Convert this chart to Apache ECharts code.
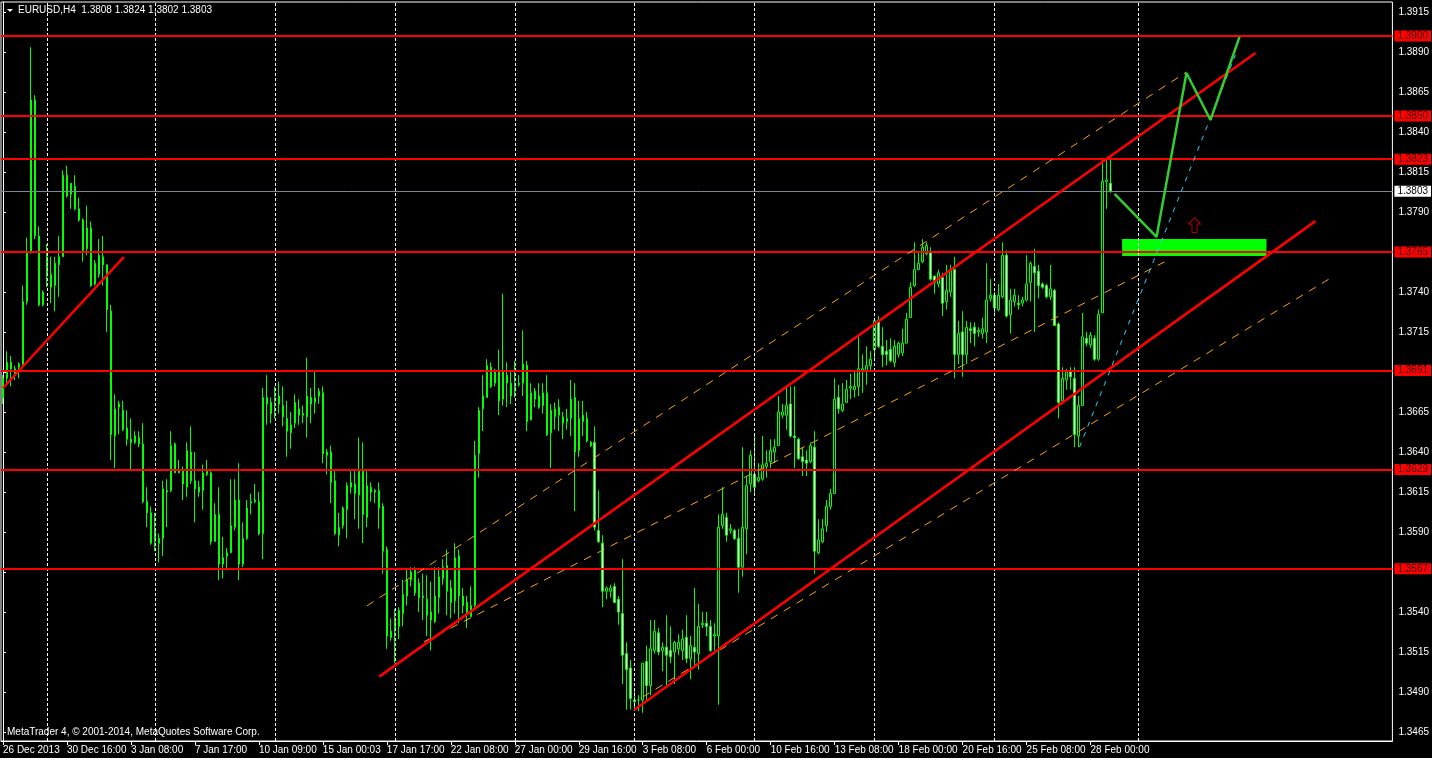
<!DOCTYPE html>
<html><head><meta charset="utf-8">
<script src="https://cdn.jsdelivr.net/npm/echarts@6/dist/echarts.min.js"></script>
<style>html,body{margin:0;padding:0;background:#000;}#c{width:1432px;height:758px;}</style>
</head><body><div id="c"></div>
<script>
// ---------- DATA ----------
const symbolName = 'EURUSD,H4';
const tickLabels = ['26 Dec 2013','30 Dec 16:00','3 Jan 08:00','7 Jan 17:00','10 Jan 09:00','15 Jan 00:03','17 Jan 17:00','22 Jan 08:00','27 Jan 00:00','29 Jan 16:00','3 Feb 08:00','6 Feb 00:00','10 Feb 16:00','13 Feb 08:00','18 Feb 00:00','20 Feb 16:00','25 Feb 08:00','28 Feb 00:00'];
const barsPerLabel = 16;
const futureBars = 70;
const priceTicks = [1.3465,1.3490,1.3515,1.3540,1.3565,1.3590,1.3615,1.3640,1.3665,1.3690,1.3715,1.3740,1.3765,1.3790,1.3815,1.3840,1.3865,1.3890,1.3915];
const hiddenTickLabels = [1.3565,1.3690,1.3765];
// H4 candles: [open, high, low, close]
const ohlc = [
[1.3674,1.3688,1.3670,1.3686],[1.3686,1.3703,1.3682,1.3696],[1.3696,1.3700,1.3681,1.3692],[1.3692,1.3694,1.3685,1.3688],
[1.3693,1.3696,1.3686,1.3695],[1.3695,1.3744,1.3693,1.3734],[1.3734,1.3774,1.3732,1.3765],[1.3765,1.3893,1.3764,1.3860],
[1.3860,1.3863,1.3773,1.3775],[1.3775,1.3781,1.3731,1.3732],[1.3732,1.3741,1.3731,1.3740],[1.3750,1.3770,1.3743,1.3762],
[1.3751,1.3762,1.3733,1.3743],[1.3744,1.3762,1.3728,1.3758],[1.3757,1.3775,1.3737,1.3762],[1.3762,1.3816,1.3762,1.3813],
[1.3813,1.3819,1.3799,1.3800],[1.3801,1.3808,1.3792,1.3808],[1.3806,1.3813,1.3791,1.3792],[1.3792,1.3799,1.3784,1.3785],
[1.3785,1.3786,1.3759,1.3766],[1.3767,1.3794,1.3763,1.3780],[1.3780,1.3784,1.3743,1.3744],[1.3745,1.3760,1.3744,1.3758],
[1.3751,1.3773,1.3749,1.3763],[1.3762,1.3775,1.3744,1.3757],[1.3757,1.3757,1.3715,1.3729],[1.3728,1.3732,1.3635,1.3651],
[1.3650,1.3676,1.3630,1.3667],[1.3668,1.3672,1.3651,1.3670],[1.3666,1.3672,1.3653,1.3654],[1.3655,1.3666,1.3644,1.3648],
[1.3648,1.3661,1.3628,1.3646],[1.3646,1.3653,1.3645,1.3650],[1.3649,1.3653,1.3643,1.3645],[1.3645,1.3658,1.3608,1.3609],
[1.3609,1.3618,1.3593,1.3602],[1.3602,1.3606,1.3582,1.3583],[1.3584,1.3602,1.3578,1.3592],[1.3586,1.3589,1.3571,1.3583],
[1.3586,1.3622,1.3575,1.3617],[1.3615,1.3623,1.3593,1.3616],[1.3616,1.3653,1.3615,1.3644],[1.3645,1.3646,1.3627,1.3627],
[1.3628,1.3635,1.3627,1.3627],[1.3628,1.3631,1.3610,1.3620],[1.3618,1.3646,1.3612,1.3641],[1.3640,1.3656,1.3620,1.3622],
[1.3622,1.3640,1.3596,1.3617],[1.3618,1.3622,1.3612,1.3615],[1.3616,1.3632,1.3604,1.3627],[1.3626,1.3635,1.3625,1.3628],
[1.3627,1.3628,1.3582,1.3584],[1.3584,1.3608,1.3584,1.3601],[1.3601,1.3618,1.3560,1.3570],[1.3570,1.3587,1.3561,1.3574],
[1.3575,1.3580,1.3566,1.3577],[1.3577,1.3623,1.3577,1.3594],[1.3593,1.3623,1.3591,1.3610],[1.3610,1.3633,1.3560,1.3570],
[1.3570,1.3596,1.3568,1.3586],[1.3586,1.3610,1.3585,1.3605],[1.3608,1.3614,1.3601,1.3609],[1.3609,1.3620,1.3608,1.3610],
[1.3609,1.3615,1.3588,1.3589],[1.3589,1.3680,1.3573,1.3674],[1.3674,1.3688,1.3657,1.3670],[1.3671,1.3674,1.3658,1.3664],
[1.3672,1.3681,1.3661,1.3674],[1.3670,1.3684,1.3664,1.3675],[1.3669,1.3681,1.3656,1.3662],[1.3661,1.3672,1.3637,1.3653],
[1.3652,1.3665,1.3642,1.3657],[1.3658,1.3676,1.3655,1.3671],[1.3667,1.3673,1.3657,1.3663],[1.3664,1.3669,1.3658,1.3663],
[1.3662,1.3699,1.3649,1.3675],[1.3674,1.3680,1.3658,1.3670],[1.3671,1.3690,1.3664,1.3674],[1.3675,1.3680,1.3670,1.3678],
[1.3677,1.3681,1.3633,1.3639],[1.3640,1.3642,1.3626,1.3638],[1.3640,1.3644,1.3608,1.3621],[1.3622,1.3628,1.3588,1.3589],
[1.3588,1.3602,1.3581,1.3593],[1.3594,1.3606,1.3592,1.3605],[1.3604,1.3621,1.3586,1.3619],[1.3618,1.3628,1.3614,1.3621],
[1.3620,1.3628,1.3598,1.3614],[1.3613,1.3649,1.3592,1.3628],[1.3628,1.3646,1.3583,1.3601],[1.3599,1.3628,1.3593,1.3619],
[1.3615,1.3621,1.3609,1.3618],[1.3616,1.3617,1.3608,1.3615],[1.3616,1.3621,1.3592,1.3605],[1.3606,1.3608,1.3564,1.3578],
[1.3579,1.3581,1.3517,1.3525],[1.3524,1.3536,1.3522,1.3528],[1.3530,1.3542,1.3508,1.3536],[1.3531,1.3543,1.3523,1.3541],
[1.3539,1.3560,1.3531,1.3551],[1.3550,1.3567,1.3544,1.3560],[1.3560,1.3568,1.3556,1.3565],[1.3566,1.3568,1.3550,1.3552],
[1.3558,1.3561,1.3540,1.3549],[1.3550,1.3564,1.3535,1.3549],[1.3548,1.3563,1.3525,1.3538],[1.3535,1.3559,1.3516,1.3540],
[1.3534,1.3568,1.3533,1.3550],[1.3549,1.3568,1.3539,1.3562],[1.3561,1.3573,1.3557,1.3568],[1.3569,1.3579,1.3538,1.3553],
[1.3555,1.3560,1.3536,1.3546],[1.3547,1.3583,1.3539,1.3574],[1.3575,1.3579,1.3533,1.3550],[1.3550,1.3555,1.3539,1.3544],
[1.3546,1.3550,1.3530,1.3540],[1.3537,1.3556,1.3537,1.3544],[1.3544,1.3647,1.3543,1.3638],[1.3639,1.3668,1.3624,1.3666],
[1.3667,1.3688,1.3653,1.3675],[1.3674,1.3698,1.3674,1.3694],[1.3693,1.3696,1.3680,1.3681],[1.3683,1.3692,1.3681,1.3691],
[1.3691,1.3704,1.3663,1.3672],[1.3673,1.3739,1.3669,1.3690],[1.3688,1.3696,1.3668,1.3683],[1.3683,1.3690,1.3670,1.3675],
[1.3678,1.3697,1.3674,1.3681],[1.3682,1.3688,1.3681,1.3683],[1.3683,1.3716,1.3675,1.3695],[1.3694,1.3697,1.3653,1.3659],
[1.3660,1.3683,1.3660,1.3677],[1.3678,1.3680,1.3668,1.3673],[1.3675,1.3683,1.3667,1.3668],[1.3669,1.3683,1.3664,1.3677],
[1.3677,1.3688,1.3650,1.3651],[1.3652,1.3670,1.3630,1.3666],[1.3662,1.3671,1.3654,1.3667],[1.3663,1.3673,1.3653,1.3668],
[1.3662,1.3665,1.3648,1.3658],[1.3659,1.3667,1.3654,1.3661],[1.3661,1.3685,1.3650,1.3673],[1.3674,1.3683,1.3603,1.3640],
[1.3641,1.3672,1.3637,1.3661],[1.3659,1.3672,1.3650,1.3663],[1.3661,1.3665,1.3646,1.3647],[1.3646,1.3647,1.3643,1.3644],
[1.3646,1.3656,1.3591,1.3593],[1.3591,1.3616,1.3583,1.3584],[1.3583,1.3588,1.3543,1.3553],[1.3553,1.3556,1.3548,1.3555],
[1.3553,1.3557,1.3549,1.3555],[1.3556,1.3558,1.3546,1.3546],[1.3548,1.3550,1.3532,1.3540],[1.3539,1.3573,1.3495,1.3513],
[1.3514,1.3521,1.3479,1.3504],[1.3505,1.3510,1.3479,1.3486],[1.3485,1.3492,1.3479,1.3484],[1.3485,1.3488,1.3478,1.3485],
[1.3485,1.3508,1.3477,1.3508],[1.3509,1.3519,1.3485,1.3494],[1.3494,1.3535,1.3488,1.3517],[1.3516,1.3535,1.3514,1.3528],
[1.3527,1.3530,1.3513,1.3515],[1.3516,1.3521,1.3503,1.3518],[1.3518,1.3538,1.3494,1.3513],[1.3516,1.3531,1.3508,1.3512],
[1.3515,1.3522,1.3495,1.3521],[1.3517,1.3526,1.3513,1.3521],[1.3516,1.3529,1.3510,1.3523],[1.3524,1.3538,1.3508,1.3511],
[1.3511,1.3525,1.3498,1.3519],[1.3518,1.3555,1.3507,1.3515],[1.3514,1.3545,1.3504,1.3531],[1.3532,1.3540,1.3530,1.3533],
[1.3533,1.3540,1.3525,1.3531],[1.3531,1.3535,1.3515,1.3516],[1.3525,1.3533,1.3516,1.3526],[1.3525,1.3601,1.3482,1.3593],
[1.3594,1.3618,1.3592,1.3601],[1.3599,1.3602,1.3584,1.3588],[1.3591,1.3595,1.3589,1.3592],[1.3591,1.3592,1.3585,1.3586],
[1.3586,1.3592,1.3552,1.3568],[1.3568,1.3643,1.3562,1.3593],[1.3592,1.3625,1.3576,1.3619],[1.3620,1.3641,1.3615,1.3638],
[1.3626,1.3650,1.3614,1.3618],[1.3622,1.3633,1.3621,1.3624],[1.3623,1.3650,1.3622,1.3632],[1.3631,1.3641,1.3624,1.3633],
[1.3634,1.3648,1.3630,1.3641],[1.3640,1.3648,1.3633,1.3643],[1.3644,1.3675,1.3644,1.3665],[1.3663,1.3670,1.3661,1.3665],
[1.3663,1.3681,1.3654,1.3669],[1.3670,1.3681,1.3649,1.3650],[1.3650,1.3681,1.3630,1.3649],[1.3648,1.3649,1.3635,1.3636],
[1.3637,1.3643,1.3625,1.3634],[1.3635,1.3641,1.3625,1.3633],[1.3634,1.3646,1.3633,1.3644],[1.3643,1.3653,1.3564,1.3578],
[1.3577,1.3598,1.3576,1.3585],[1.3584,1.3598,1.3583,1.3592],[1.3594,1.3610,1.3590,1.3606],[1.3606,1.3617,1.3604,1.3614],
[1.3614,1.3686,1.3614,1.3673],[1.3674,1.3682,1.3664,1.3667],[1.3666,1.3683,1.3665,1.3670],[1.3671,1.3685,1.3671,1.3679],
[1.3680,1.3689,1.3673,1.3681],[1.3679,1.3691,1.3674,1.3681],[1.3681,1.3713,1.3675,1.3692],[1.3691,1.3701,1.3677,1.3692],
[1.3691,1.3706,1.3682,1.3694],[1.3694,1.3703,1.3691,1.3698],[1.3704,1.3724,1.3698,1.3722],[1.3722,1.3725,1.3705,1.3706],
[1.3706,1.3718,1.3693,1.3701],[1.3703,1.3710,1.3694,1.3701],[1.3704,1.3711,1.3696,1.3697],[1.3696,1.3710,1.3693,1.3706],
[1.3701,1.3709,1.3699,1.3708],[1.3702,1.3717,1.3700,1.3708],[1.3708,1.3727,1.3708,1.3723],[1.3724,1.3746,1.3724,1.3743],
[1.3744,1.3771,1.3743,1.3754],[1.3754,1.3765,1.3754,1.3758],[1.3759,1.3773,1.3758,1.3768],[1.3764,1.3771,1.3763,1.3769],
[1.3765,1.3768,1.3747,1.3748],[1.3750,1.3750,1.3739,1.3746],[1.3745,1.3754,1.3743,1.3752],[1.3749,1.3752,1.3725,1.3733],
[1.3734,1.3757,1.3729,1.3741],[1.3740,1.3757,1.3737,1.3754],[1.3754,1.3762,1.3686,1.3701],[1.3701,1.3722,1.3695,1.3714],
[1.3715,1.3728,1.3687,1.3701],[1.3701,1.3722,1.3695,1.3718],[1.3717,1.3721,1.3708,1.3716],[1.3718,1.3721,1.3706,1.3714],
[1.3715,1.3718,1.3712,1.3716],[1.3714,1.3724,1.3711,1.3717],[1.3715,1.3758,1.3708,1.3735],[1.3736,1.3748,1.3734,1.3738],
[1.3738,1.3740,1.3727,1.3730],[1.3729,1.3745,1.3728,1.3738],[1.3737,1.3771,1.3736,1.3763],[1.3763,1.3766,1.3724,1.3725],
[1.3726,1.3742,1.3714,1.3735],[1.3734,1.3742,1.3731,1.3738],[1.3733,1.3738,1.3729,1.3732],[1.3733,1.3737,1.3731,1.3735],
[1.3735,1.3763,1.3734,1.3745],[1.3746,1.3759,1.3734,1.3758],[1.3756,1.3767,1.3715,1.3752],[1.3753,1.3757,1.3736,1.3744],
[1.3745,1.3746,1.3742,1.3743],[1.3744,1.3745,1.3736,1.3737],[1.3737,1.3757,1.3735,1.3742],[1.3741,1.3742,1.3719,1.3719],
[1.3720,1.3721,1.3661,1.3671],[1.3672,1.3693,1.3671,1.3686],[1.3685,1.3692,1.3679,1.3690],[1.3691,1.3693,1.3679,1.3687],
[1.3686,1.3693,1.3643,1.3651],[1.3650,1.3675,1.3643,1.3669],[1.3669,1.3727,1.3669,1.3712],[1.3711,1.3715,1.3706,1.3708],
[1.3707,1.3715,1.3705,1.3713],[1.3711,1.3713,1.3697,1.3698],[1.3698,1.3729,1.3697,1.3726],[1.3727,1.3824,1.3727,1.3809],
[1.3809,1.3823,1.3792,1.3810],[1.3808,1.3824,1.3802,1.3803]
];
// horizontal price levels
const levels = [1.3900,1.3850,1.3823,1.3765,1.3691,1.3629,1.3567];
const bidPrice = 1.3803;
// vertical grid lines (bar index)
const gridBars = [11,38,68,98,128,158,188,218,248,284];
// drawn objects, points as [bar index, price]
const trendLeft   = [[0,1.3680],[30.25,1.3762]];
const channelUp   = [[94.1,1.34996],[313.25,1.38894]];
const channelDown = [[157.8,1.34788],[328.25,1.37843]];
const dashUpper   = [[91,1.35438],[296,1.38775]];
const dashMiddle  = [[105.25,1.35213],[290.5,1.37588]];
const dashLower   = [[160,1.34869],[332.5,1.37494]];
const cyanLine    = [[269.25,1.36431],[308.25,1.38881]];
const projection  = [[278,1.38013],[288.5,1.37744],[296,1.38769],[302,1.38475],[309.25,1.38994]];
const zoneBox     = {x0:279.9, x1:316, top:1.37731, bottom:1.37625};
const arrowPoint  = [[298,1.37819]];

// ---------- CHART ----------
const FONT = "'Liberation Sans', Arial, sans-serif";
const nCats = ohlc.length + futureBars;
const cats = [];
for (let i = 0; i < nCats; i++) {
  const k = i / barsPerLabel;
  cats.push(i % barsPerLabel === 0 && k < tickLabels.length ? tickLabels[k] : '');
}
const isLabelIdx = (i) => i % barsPerLabel === 0 && i / barsPerLabel < tickLabels.length;
const candleData = ohlc.map(r => [r[0], r[3], r[2], r[1]]);
const last = ohlc[ohlc.length - 1];
const header = symbolName + '  ' + last.map(v => v.toFixed(4)).join(' ');

function seg(name, pts, color, width, type, z) {
  return {type:'line', name, xAxisIndex:1, yAxisIndex:0, data:pts, symbol:'none', showSymbol:false,
    silent:true, z, lineStyle:{color, width, type}, animation:false};
}

const chart = echarts.init(document.getElementById('c'));
chart.setOption({
  backgroundColor:'#000000',
  animation:false,
  textStyle:{fontFamily:FONT},
  grid:{left:1, top:2, right:39, bottom:17, show:true, borderColor:'#ffffff', borderWidth:1, backgroundColor:'#000000'},
  xAxis:[
    {type:'category', data:cats, boundaryGap:true, position:'bottom',
     axisLine:{show:true, lineStyle:{color:'#ffffff', width:1}},
     axisTick:{show:true, interval:(i)=>isLabelIdx(i), alignWithLabel:true, length:4, lineStyle:{color:'#ffffff'}},
     axisLabel:{interval:(i)=>isLabelIdx(i), align:'left', color:'#ffffff', fontSize:10, fontFamily:FONT, margin:4},
     splitLine:{show:false}},
    {type:'value', min:-0.5, max:nCats-0.5, show:false, splitLine:{show:false}}
  ],
  yAxis:[{type:'value', position:'right', min:1.3459375, max:1.392125, scale:true,
    axisLine:{show:true, lineStyle:{color:'#ffffff'}},
    axisTick:{show:true, customValues:priceTicks, length:3, lineStyle:{color:'#ffffff'}},
    axisLabel:{customValues:priceTicks.filter(v=>hiddenTickLabels.indexOf(v)<0), color:'#ffffff', fontSize:10, fontFamily:FONT, margin:6,
      formatter:(v)=>Number(v).toFixed(4)},
    splitLine:{show:false}}],
  graphic:[
    {type:'polygon', shape:{points:[[7,9],[13,9],[10,12]]}, style:{fill:'#ffffff'}, z:100},
    {type:'text', left:18, top:5, style:{text:header, fill:'#ffffff', font:'10px '+FONT}, z:100},
    {type:'text', left:7, top:727, style:{text:'MetaTrader 4, \u00a9 2001-2014, MetaQuotes Software Corp.', fill:'#ffffff', font:'10px '+FONT}, z:100}
  ],
  series:[
    {type:'line', name:'grid', xAxisIndex:1, data:[], z:1, silent:true,
     markLine:{silent:true, precision:4, symbol:['none','none'], animation:false, label:{show:false},
       lineStyle:{color:'#ffffff', width:1, type:[3,2]}, data:gridBars.map(b=>({xAxis:b}))}},
    {type:'line', name:'zone', xAxisIndex:1, data:[], z:2, silent:true,
     markArea:{silent:true, animation:false, itemStyle:{color:'#00ff00'},
       data:[[{xAxis:zoneBox.x0, yAxis:zoneBox.top},{xAxis:zoneBox.x1, yAxis:zoneBox.bottom}]]}},
    {type:'candlestick', name:'EURUSD', xAxisIndex:0, data:candleData, z:3, barWidth:2, silent:true,
     itemStyle:{color:'#000000', color0:'#ffffff', borderColor:'#00ff00', borderColor0:'#00ff00', borderWidth:1}},
    {type:'line', name:'bid', xAxisIndex:1, data:[], z:4, silent:true,
     markLine:{silent:true, precision:4, symbol:['none','none'], animation:false,
       lineStyle:{color:'#778899', width:1, type:'solid'},
       label:{show:true, position:'end', distance:2, formatter:(p)=>Number(p.value).toFixed(4), backgroundColor:'#ffffff', color:'#000000',
         fontSize:10, fontFamily:FONT, padding:[1,3,0,3]},
       data:[{yAxis:bidPrice}]}},
    seg('dashUpper', dashUpper, '#ffa500', 1, [8,7], 5),
    seg('dashMiddle', dashMiddle, '#ffa500', 1, [8,7], 5),
    seg('dashLower', dashLower, '#ffa500', 1, [8,7], 5),
    {type:'line', name:'levels', xAxisIndex:1, data:[], z:6, silent:true,
     markLine:{silent:true, precision:4, symbol:['none','none'], animation:false,
       lineStyle:{color:'#ff0000', width:2, type:'solid'},
       label:{show:true, position:'end', distance:2, formatter:(p)=>Number(p.value).toFixed(4), backgroundColor:'#ff0000', color:'#3a0000',
         fontSize:10, fontFamily:FONT, padding:[1,3,0,3]},
       data:levels.map(v=>({yAxis:v}))}},
    seg('trendLeft', trendLeft, '#ff0000', 2.5, 'solid', 6),
    seg('channelUp', channelUp, '#ff0000', 2.5, 'solid', 6),
    seg('channelDown', channelDown, '#ff0000', 2.5, 'solid', 6),
    seg('cyan', cyanLine, '#33ccff', 1, [5,6], 7),
    seg('projection', projection, '#32cd32', 2.5, 'solid', 7),
    {type:'scatter', name:'arrow', xAxisIndex:1, data:arrowPoint, z:8, silent:true,
     symbol:'path://M6,0 L12,7 L8.5,7 L8.5,16 L3.5,16 L3.5,7 L0,7 Z', symbolSize:[12,15],
     itemStyle:{color:'rgba(0,0,0,0)', borderColor:'#e00000', borderWidth:1}}
  ]
});
</script>
</body></html>
